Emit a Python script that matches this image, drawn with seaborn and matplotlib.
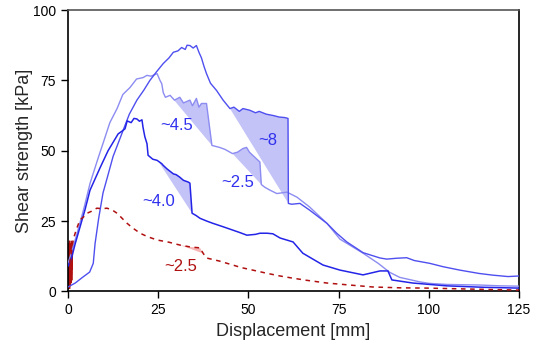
import numpy as np
import pandas as pd
import matplotlib
matplotlib.use("Agg")
import matplotlib.pyplot as plt
import seaborn as sns

# ---- data ----
a_x = [0, 2, 4, 6, 7, 7.5, 8.5, 9.7, 11, 12.5, 14, 15.2, 17, 19.1, 21, 22.7, 24.5, 26.4, 28, 29.2,
       30.5, 31.5, 32.5, 33, 33.8, 34.7, 35.6, 36.3, 37, 37.7, 38.4, 39.5, 41.2, 43, 44.9, 46, 47.5,
       48.5, 50.4, 52, 53, 55, 57, 58.5, 60.1, 61, 61.1, 62, 64.3, 67, 71.8, 74.5, 77.3, 81.8, 86.5,
       88.4, 91, 93.9, 96, 100.3, 104, 108.6, 114, 117.8, 122, 125]
a_y = [1.6, 3, 5, 6.9, 10, 17, 26, 35, 41, 48, 53, 57, 63, 68, 71.5, 75, 78, 81, 83, 85,
       85.5, 86.7, 86, 87.5, 87.4, 86.5, 87.4, 85, 83, 80, 77.4, 74, 71.4, 68, 65, 65.5, 64,
       65, 64.4, 63.5, 64, 63, 62.5, 62, 61.8, 61.5, 31.3, 31, 31.3, 28.9, 24.2, 20.7, 17.6, 13.8, 11.9,
       11.5, 11.8, 12.0, 11, 10, 8.8, 7.6, 6.4, 5.8, 5.3, 5.5]

b_x = [0, 1, 2.5, 4.5, 6.1, 7, 8.5, 9.7, 11.6, 13.6, 15.2, 17.2, 19, 20.8, 21.9, 23, 24.7, 25.5,
       26, 26.4, 27, 28.3, 29.5, 31, 32, 33.8, 34.5, 35.6, 36.3, 37, 38.4, 39.9, 42, 43.5, 45.6,
       47, 48.5, 49.5, 50.3, 51.2, 53.2, 53.6, 54.6, 56, 57.9, 60.7, 63.5, 67, 71.8, 75.4, 81.8,
       86, 89.2, 92, 97.6, 100, 105, 114, 120, 124.4, 125]
b_y = [10, 14, 20.6, 30, 38.4, 42, 48, 52.6, 60, 65, 70, 72.5, 75.5, 76, 76.8, 76.5, 77.4, 75,
       73.8, 70.7, 69, 69.7, 68, 69, 67, 68, 66, 68.6, 65.5, 66.8, 66.8, 51.9, 51.2, 50.5, 49,
       49.5, 50.8, 51.2, 49.5, 48.4, 46, 38, 37, 36, 34.8, 35.3, 33.5, 30, 24.2, 18.6, 13.6,
       10.0, 6.8, 5.0, 3.4, 2.9, 2.5, 2.3, 2.0, 1.9, 1.9]

c_x = [0, 1, 2, 3.3, 4.7, 6.1, 7.5, 8.9, 10, 11.1, 12.5, 13.9, 15, 15.8, 16.4, 17.5, 18.3, 19.1,
       19.8, 20.5, 20.8, 21.3, 21.9, 22.2, 23.5, 24.7, 26, 26.4, 27.5, 29.2, 30, 31, 32, 33.3,
       33.8, 34.4, 35.5, 36.6, 38.5, 40.2, 43, 45.7, 47.5, 49.6, 52, 53.2, 55.2, 56.8, 58.8,
       62.4, 65.1, 70.7, 75.4, 81.8, 86.5, 88.7, 89.8, 95.6, 105, 115, 125]
c_y = [9, 12, 17, 22.8, 29, 36, 40, 44, 47, 50, 53, 56, 57, 57.8, 60.6, 60, 61.5, 61.3,
       60.5, 61, 58.3, 55, 52.5, 48.4, 47, 46.6, 45.4, 44.8, 43.5, 41.8, 41.5, 40.6, 39.5, 38.9,
       38.5, 27.8, 27, 26, 25, 24.2, 23, 21.8, 21, 20, 20.3, 20.7, 20.7, 20.5, 19.0,
       17.6, 13.6, 9.4, 7.6, 5.9, 7.3, 7.3, 4.1, 3.0, 2.0, 1.5, 1.2]

r_x = [0.5, 1.4, 2.3, 3.3, 4.3, 5.3, 6.5, 8, 9.5, 10.8, 12.2, 13.6, 15, 16.4, 18, 20, 22, 24.7,
       28, 31, 34, 36.6, 37.5, 38.4, 42, 45.7, 48, 51.2, 55, 58.8, 62, 66, 71.8, 78, 84.5, 92,
       99.5, 110, 117, 125]
r_y = [10, 18.3, 22, 25.4, 26.5, 27.8, 28.5, 29.6, 29.4, 29.6, 29, 27.8, 26, 24.2, 22.5, 20.7,
       19.5, 18.3, 17.5, 16.5, 15.8, 15.5, 13.5, 11.9, 10.8, 9.4, 8.5, 7.6, 6.5, 5.5, 4.8, 4,
       3, 2.3, 1.6, 1.3, 1.2, 0.9, 0.7, 0.5]

# noisy start of the red test
rn_x = [0, 0.05, 0.1, 0.15, 0.2, 0.25, 0.3, 0.35, 0.4, 0.45, 0.5, 0.55, 0.6, 0.65, 0.7, 0.75,
        0.8, 0.85, 0.9, 0.95, 1.0, 1.05, 1.1, 1.15, 1.2, 1.3, 1.4]
rn_y = [0, 16, 2, 17, 1, 15, 3, 18, 2, 14, 1, 17, 4, 16, 2, 13, 5, 18, 3, 15, 6, 17, 4, 16, 8, 14, 18]

# drop annotations: (series, x-start, x-end, label, text x, text y)
drops = [("b", 28.3, 39.9, "~4.5", 30.2, 59),
         ("a", 44.9, 61.1, "~8", 55.5, 53.6),
         ("b", 45.6, 53.6, "~2.5", 47.1, 38.8),
         ("c", 25.0, 34.4, "~4.0", 25.2, 32),
         ("r", 31.0, 37.5, "~2.5", 31.3, 9)]

# ---- plotting ----
sns.set_style("ticks")
plt.rcParams["font.family"] = ["Liberation Sans", "DejaVu Sans"]

fig = plt.figure(figsize=(5.45, 3.47), dpi=100)
ax = fig.add_axes([0.1248, 0.16, 0.8272, 0.811])

col_a = "#4f4ff0"
col_b = "#8c8cf2"
col_c = "#2424e8"
col_r = "#b01010"

series = {"a": (a_x, a_y, col_a), "b": (b_x, b_y, col_b),
          "c": (c_x, c_y, col_c), "r": (r_x, r_y, col_r)}

for key, x0, x1, lab, tx, ty in drops:
    xs, ys, col = series[key]
    xs = np.asarray(xs, float)
    ys = np.asarray(ys, float)
    yi0 = np.interp(x0, xs, ys)
    yi1 = np.interp(x1, xs, ys)
    m = (xs > x0) & (xs < x1)
    px = np.concatenate([[x0], xs[m], [x1]])
    py = np.concatenate([[yi0], ys[m], [yi1]])
    fc = "#f7b4b4" if key == "r" else "#c3c3f7"
    ax.fill(px, py, color=fc, lw=0, zorder=1)
    tc = col_r if key == "r" else "#3030ee"
    ax.text(tx, ty, lab, color=tc, fontsize=12, ha="center", va="center", zorder=5)

sns.lineplot(x=rn_x, y=rn_y, color=col_r, lw=0.6, sort=False, estimator=None, ax=ax, zorder=2)
sns.lineplot(x=b_x, y=b_y, color=col_b, lw=1.0, sort=False, estimator=None, ax=ax, zorder=3)
sns.lineplot(x=a_x, y=a_y, color=col_a, lw=1.0, sort=False, estimator=None, ax=ax, zorder=3)
sns.lineplot(x=c_x, y=c_y, color=col_c, lw=1.1, sort=False, estimator=None, ax=ax, zorder=3)
sns.lineplot(x=r_x, y=r_y, color=col_r, lw=1.1, sort=False, estimator=None, ax=ax, zorder=3,
             linestyle=(0, (3, 3)))

ax.set_xlim(0, 125)
ax.set_ylim(0, 100)
ax.set_xticks([0, 25, 50, 75, 100, 125])
ax.set_yticks([0, 25, 50, 75, 100])
ax.tick_params(direction="out", length=5, width=1, labelsize=10, colors="black")
ax.set_xlabel("Displacement [mm]", fontsize=13)
ax.set_ylabel("Shear strength [kPa]", fontsize=13, labelpad=0)
for s in ["left", "bottom", "right"]:
    ax.spines[s].set_color("black")
    ax.spines[s].set_linewidth(1.2)
ax.spines["top"].set_color("#555555")
ax.spines["top"].set_linewidth(1.2)
ax.spines["top"].set_visible(True)
ax.spines["right"].set_visible(True)

fig.savefig("out.png", dpi=100)
